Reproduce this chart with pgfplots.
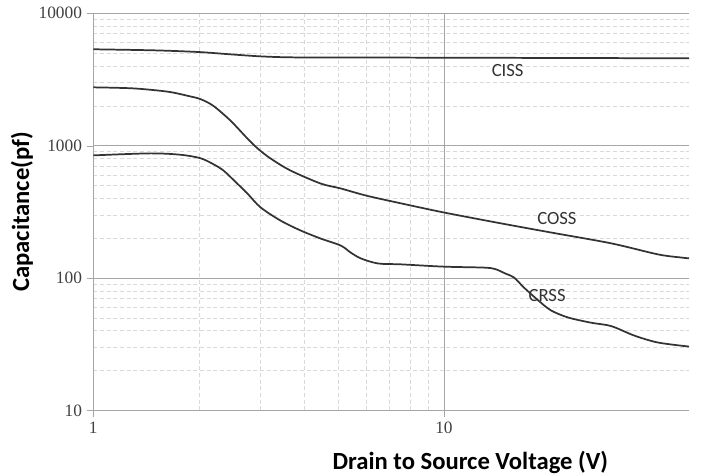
\documentclass[border=0pt]{standalone}
\usepackage{pgfplots}
\pgfplotsset{compat=1.18}
\usepackage{fontspec}
\setmainfont{Carlito}
\newfontfamily\tickfont{Liberation Serif}
\definecolor{curve}{HTML}{333333}
\definecolor{majgrid}{HTML}{A6A6A6}
\definecolor{mingrid}{HTML}{D9D9D9}
\begin{document}
\begin{tikzpicture}
\begin{axis}[
    scale only axis,
    width=447pt, height=298pt,
    xmode=log, ymode=log,
    xmin=1, xmax=50,
    ymin=10, ymax=10000,
    xtick={1,10}, xticklabels={1,10},
    ytick={10,100,1000,10000}, yticklabels={10,100,1000,10000},
    axis lines=left,
    axis line style={majgrid, -},
    grid=both,
    major grid style={majgrid, line width=0.6pt},
    minor grid style={mingrid, densely dashed, line width=0.5pt},
    tick align=outside,
    major tick length=5pt,
    minor tick length=0pt,
    tick style={majgrid},
    /pgf/number format/assume math mode=true,
    ticklabel style={font=\tickfont\fontsize{13}{15}\selectfont, text=black!75},
    xlabel={Drain to Source Voltage (V)},
    ylabel={Capacitance(pf)},
    label style={font=\bfseries\fontsize{18.5}{21}\selectfont, inner sep=0pt},
    xlabel style={at={(axis description cs:0.633,0)}, anchor=center, yshift=-39pt},
    ylabel style={at={(axis description cs:0,0.5)}, anchor=center, yshift=53.5pt},
]
% CISS
\addplot[curve, line width=1.3pt, smooth] coordinates {
    (1,5350) (1.5,5250) (2,5100) (2.46,4900) (3,4730) (3.65,4650) (5,4640)
    (7.5,4630) (10,4620) (15,4610) (20,4600) (30,4590) (40,4575) (50,4570)
};
% COSS
\addplot[curve, line width=1.3pt, smooth] coordinates {
    (1,2760) (1.3,2710) (1.63,2560) (1.86,2380) (2.02,2250) (2.2,2000) (2.46,1550)
    (2.75,1135) (2.94,955) (3.2,802) (3.65,650) (4.45,518) (5.07,476) (6,420)
    (7.54,367) (10,313) (14.55,259) (20.2,221) (30,183) (40.8,151) (47.5,143) (50,141)
};
% CRSS
\addplot[curve, line width=1.3pt, smooth] coordinates {
    (1,845) (1.45,875) (1.77,855) (2.02,805) (2.2,725) (2.35,650) (2.55,530) (2.75,436)
    (3,342) (3.42,272) (3.9,229) (4.45,199) (5.08,176) (5.42,156) (5.79,141)
    (6.48,129) (7.54,127) (10,122) (13,120) (14,117) (15,108) (15.85,101) (16.9,85)
    (18.6,67.7) (20.2,57) (22.6,50.4) (26.3,46) (30,43.4) (34.9,36.8) (40.8,32.6) (50,30.4)
};
\node[font=\fontsize{14}{16}\selectfont, text=black!80] at (axis cs:15.2,3710) {CISS};
\node[font=\fontsize{14}{16}\selectfont, text=black!80] at (axis cs:21,282) {COSS};
\node[font=\fontsize{14}{16}\selectfont, text=black!80] at (axis cs:19.7,74) {CRSS};
\coordinate (bl) at (rel axis cs:0,0);
\coordinate (tr) at (rel axis cs:1,1);
\end{axis}
\path ([xshift=-70pt,yshift=-49pt]bl) rectangle ([xshift=9pt,yshift=10pt]tr);
\end{tikzpicture}
\end{document}
